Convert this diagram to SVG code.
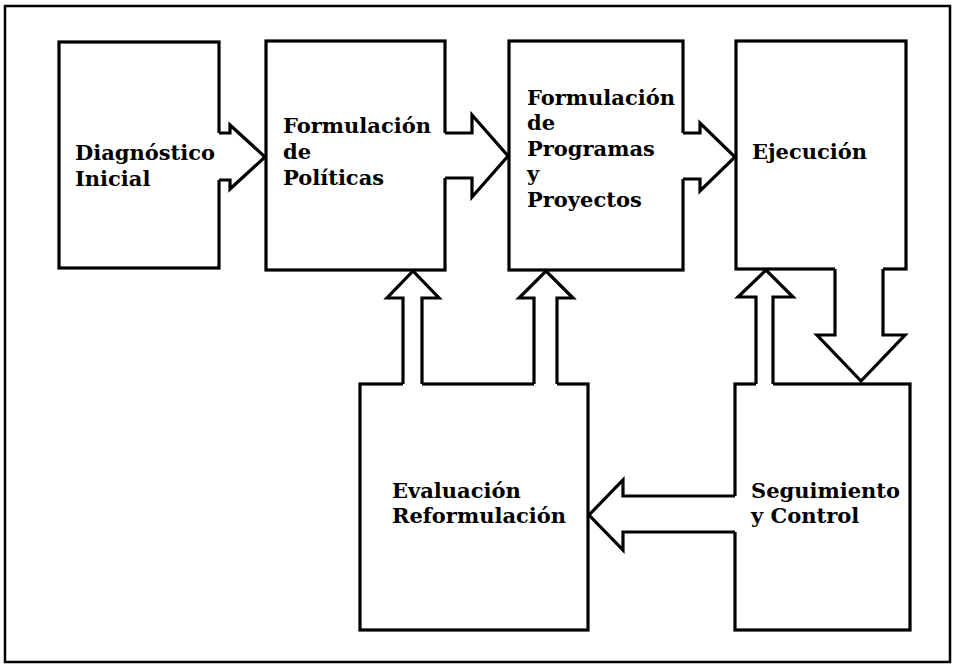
<svg xmlns="http://www.w3.org/2000/svg" width="957" height="665" viewBox="0 0 957 665">
<style>
.frame{fill:none;stroke:#000;stroke-width:2.5}
.box{fill:#fff;stroke:#000;stroke-width:3.2}
.af{fill:#fff;stroke:none}
.al{fill:none;stroke:#000;stroke-width:3.2;stroke-linejoin:miter}
.t{font-family:"DejaVu Serif","Liberation Serif",serif;font-weight:bold;font-size:21px;fill:#000}
</style>
<rect width="957" height="665" fill="#fff"/>
<rect class="frame" x="5" y="6" width="945" height="656"/>
<g id="diagnostico">
<rect class="box" x="59" y="42" width="160" height="226"/>
<text class="t" x="75" y="160">Diagnóstico</text>
<text class="t" x="75" y="186">Inicial</text>
</g>
<g id="politicas">
<rect class="box" x="266" y="41" width="179" height="229"/>
<text class="t" x="283" y="133">Formulación</text>
<text class="t" x="283" y="159">de</text>
<text class="t" x="283" y="185">Políticas</text>
</g>
<g id="programas">
<rect class="box" x="509" y="41" width="174" height="229"/>
<text class="t" x="527" y="105">Formulación</text>
<text class="t" x="527" y="130">de</text>
<text class="t" x="527" y="156">Programas</text>
<text class="t" x="527" y="181">y</text>
<text class="t" x="527" y="207">Proyectos</text>
</g>
<g id="ejecucion">
<rect class="box" x="736" y="41" width="170" height="228"/>
<text class="t" x="752" y="159">Ejecución</text>
</g>
<g id="evaluacion">
<rect class="box" x="360" y="384" width="228" height="246"/>
<text class="t" x="392" y="498">Evaluación</text>
<text class="t" x="392" y="523">Reformulación</text>
</g>
<g id="seguimiento">
<rect class="box" x="735" y="384" width="175" height="246"/>
<text class="t" x="751" y="498">Seguimiento</text>
<text class="t" x="751" y="523">y Control</text>
</g>
<g id="connectors">
<!-- Diagnostico -> Politicas -->
<polygon class="af" points="215,133 230,133 230,125 265,157 230,189 230,180 215,180"/>
<polyline class="al" points="219,133 230,133 230,125 265,157 230,189 230,180 219,180"/>
<!-- Politicas -> Programas -->
<polygon class="af" points="441,133 472,133 472,115 508,156 472,197 472,178 441,178"/>
<polyline class="al" points="445,133 472,133 472,115 508,156 472,197 472,178 445,178"/>
<!-- Programas -> Ejecucion -->
<polygon class="af" points="679,133 700,133 700,123 735,157 700,191 700,179 679,179"/>
<polyline class="al" points="683,133 700,133 700,123 735,157 700,191 700,179 683,179"/>
<!-- Evaluacion -> Politicas -->
<polygon class="af" points="403,388 403,298 387,298 413,271 439,298 422,298 422,388"/>
<polyline class="al" points="403,384 403,298 387,298 413,271 439,298 422,298 422,384"/>
<!-- Evaluacion -> Programas -->
<polygon class="af" points="534,388 534,298 519,298 546,271 573,298 557,298 557,388"/>
<polyline class="al" points="534,384 534,298 519,298 546,271 573,298 557,298 557,384"/>
<!-- Seguimiento -> Ejecucion -->
<polygon class="af" points="756,388 756,297 738,297 766,270 793,297 773,297 773,388"/>
<polyline class="al" points="756,384 756,297 738,297 766,270 793,297 773,297 773,384"/>
<!-- Ejecucion -> Seguimiento -->
<polygon class="af" points="835,265 835,335 817,335 861,381 905,335 883,335 883,265"/>
<polyline class="al" points="835,269 835,335 817,335 861,381 905,335 883,335 883,269"/>
<!-- Seguimiento -> Evaluacion -->
<polygon class="af" points="739,496 623,496 623,480 589,515 623,550 623,532 739,532"/>
<polyline class="al" points="735,496 623,496 623,480 589,515 623,550 623,532 735,532"/>
</g>
</svg>
